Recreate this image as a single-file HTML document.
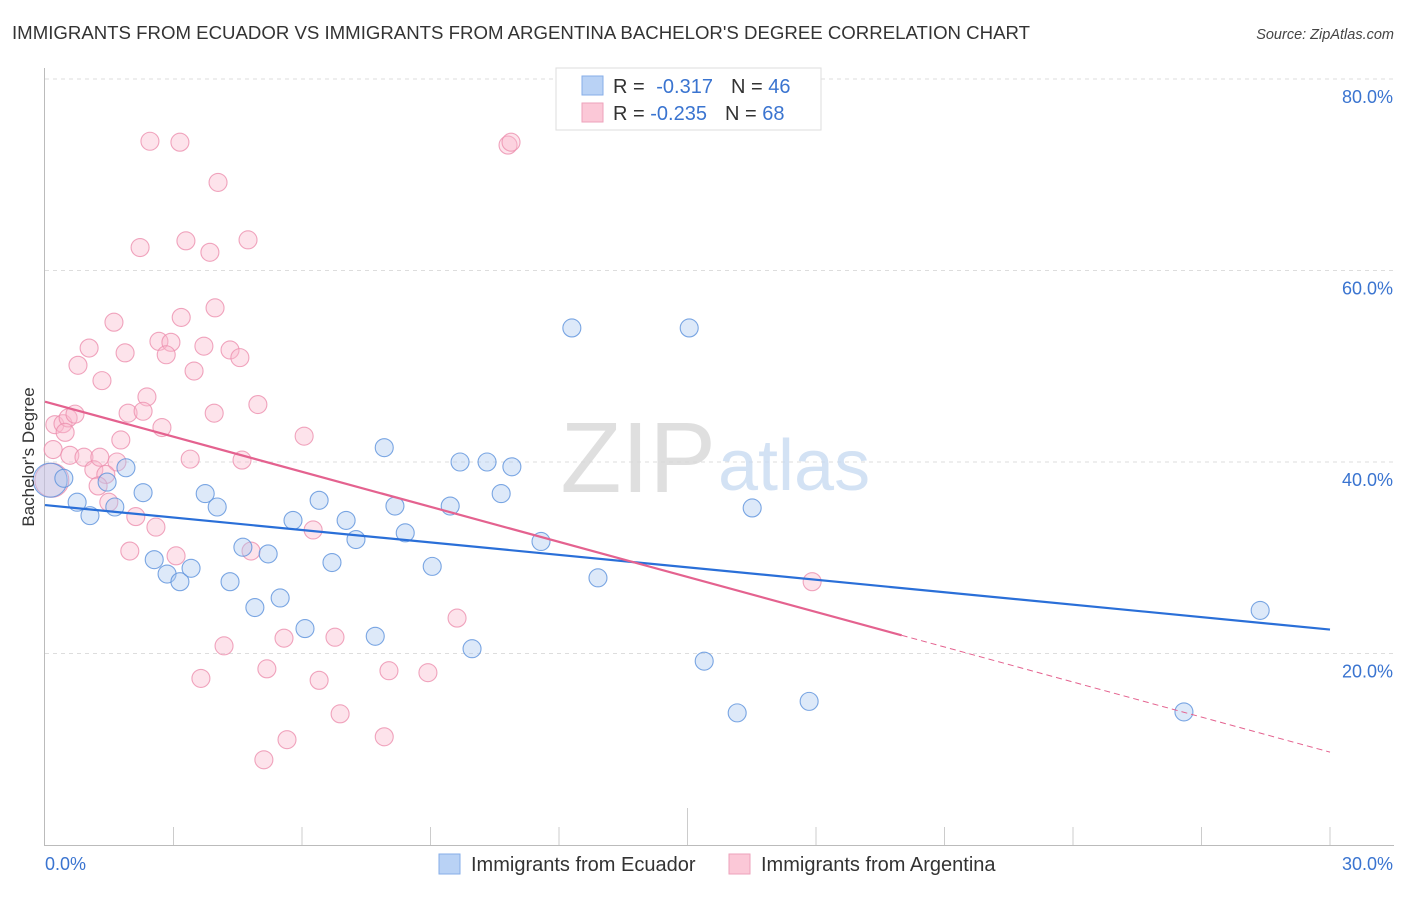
<!DOCTYPE html>
<html><head><meta charset="utf-8"><style>
body{margin:0;background:#fff;font-family:"Liberation Sans",sans-serif;}
svg text{font-family:"Liberation Sans",sans-serif;}
</style></head><body>
<svg id="chart" width="1406" height="892" viewBox="0 0 1406 892" xmlns="http://www.w3.org/2000/svg">
<text x="12" y="39" font-size="18" fill="#333" textLength="1018" lengthAdjust="spacingAndGlyphs">IMMIGRANTS FROM ECUADOR VS IMMIGRANTS FROM ARGENTINA BACHELOR'S DEGREE CORRELATION CHART</text>
<text x="1394" y="39" font-size="14.5" fill="#444" font-style="italic" text-anchor="end">Source: ZipAtlas.com</text>
<g id="grid"></g>
<text x="716" y="492" font-size="100" fill="#d8d8d8" text-anchor="end" font-family="Liberation Serif" opacity="0.8">ZIP</text>
<text x="718" y="490" font-size="72" fill="#c9dbf2" opacity="0.8">atlas</text>
<g id="marks"></g>
<text transform="translate(34,457) rotate(-90)" font-size="17" fill="#333" text-anchor="middle">Bachelor's Degree</text>
<g>
<rect x="556" y="68" width="265" height="62" fill="#fff" stroke="#ddd"/>
<rect x="582" y="76" width="21" height="19" fill="#b9d2f5" stroke="#86aee8"/>
<rect x="582" y="103" width="21" height="19" fill="#fbc8d7" stroke="#eea2bb"/>
<text x="613" y="93" font-size="20" fill="#333">R = <tspan dx="6" fill="#3a74d0">-0.317</tspan><tspan dx="18">N = </tspan><tspan fill="#3a74d0">46</tspan></text>
<text x="613" y="120" font-size="20" fill="#333">R = <tspan fill="#3a74d0">-0.235</tspan><tspan dx="18">N = </tspan><tspan fill="#3a74d0">68</tspan></text>
</g>
<g>
<rect x="439" y="854" width="21" height="20" fill="#b9d2f5" stroke="#86aee8"/>
<text x="471" y="871" font-size="20" fill="#333">Immigrants from Ecuador</text>
<rect x="729" y="854" width="21" height="20" fill="#fbc8d7" stroke="#eea2bb"/>
<text x="761" y="871" font-size="20" fill="#333">Immigrants from Argentina</text>
</g>
</svg>
<script>
const blueX=[0.12,0.44,0.75,1.05,1.45,1.63,1.89,2.29,2.55,2.85,3.15,3.41,3.74,4.02,4.32,4.62,4.90,5.21,5.49,5.79,6.07,6.40,6.70,7.03,7.26,7.71,7.92,8.17,8.41,9.04,9.46,9.69,9.97,10.32,10.65,10.90,11.58,12.30,12.91,15.04,15.39,16.16,16.51,17.84,26.59,28.37];
const blueY=[38.1,38.3,35.8,34.4,37.9,35.3,39.4,36.8,29.8,28.3,27.5,28.9,36.7,35.3,27.5,31.1,24.8,30.4,25.8,33.9,22.6,36.0,29.5,33.9,31.9,21.8,41.5,35.4,32.6,29.1,35.4,40.0,20.5,40.0,36.7,39.5,31.7,54.0,27.9,54.0,19.2,13.8,35.2,15.0,13.9,24.5];
const pinkX=[2.45,3.15,4.04,2.22,3.29,3.85,4.74,3.97,1.61,3.18,1.03,1.87,2.66,2.94,2.83,3.71,4.32,4.55,0.77,3.48,1.33,2.38,1.94,2.29,4.97,3.95,0.23,0.42,0.54,0.70,2.73,1.77,6.05,0.19,0.58,0.91,3.39,4.60,1.68,1.14,1.42,1.24,1.49,2.12,2.59,6.26,1.98,3.06,4.81,4.18,5.58,6.77,9.62,17.91,3.64,5.18,6.40,8.03,8.94,6.89,5.65,7.92,5.11,10.81,10.88,0.16,1.28,0.47];
const pinkY=[73.5,73.4,69.2,62.4,63.1,61.9,63.2,56.1,54.6,55.1,51.9,51.4,52.6,52.5,51.2,52.1,51.7,50.9,50.1,49.5,48.5,46.8,45.1,45.3,46.0,45.1,43.9,44.0,44.6,45.0,43.6,42.3,42.7,41.3,40.7,40.5,40.3,40.2,40.0,39.2,38.7,37.5,35.8,34.3,33.2,32.9,30.7,30.2,30.7,20.8,21.6,21.7,23.7,27.5,17.4,18.4,17.2,18.2,18.0,13.7,11.0,11.3,8.9,73.1,73.4,38.1,40.5,43.1];
const blueTrend=[35.5,22.5];
const pinkTrend=[46.3,9.7];
const pinkSolidEnd=20.0;
const yTicks=[20,40,60,80];
const xTickCount=10;

const NS='http://www.w3.org/2000/svg';
const sx=v=>45+v/30*1285;
const sy=v=>845-v/20*191.5;
function mk(tag,attrs,parent){const e=document.createElementNS(NS,tag);for(const k in attrs)e.setAttribute(k,attrs[k]);parent.appendChild(e);return e;}
const grid=document.getElementById('grid'),marks=document.getElementById('marks');
yTicks.forEach(t=>{
  const l=mk('line',{x1:45,x2:1394,y1:sy(t),y2:sy(t),stroke:'#ddd','stroke-dasharray':'4,4'},grid);
  
  
  const tx=mk('text',{x:1393,y:sy(t)+24,'font-size':18,fill:'#3a74d0','text-anchor':'end'},grid);
  tx.textContent=t.toFixed(1)+'%';
  
  
});
const ax=mk('line',{x1:44.5,x2:44.5,y1:68,y2:845,stroke:'#bbb'},grid);


const bx=mk('line',{x1:44,x2:1394,y1:845.5,y2:845.5,stroke:'#bbb'},grid);


for(let i=1;i<=xTickCount;i++){
  const x=sx(i*3);
  const t=mk('line',{x1:x,x2:x,y1:i===5?808:827,y2:845,stroke:'#ccc'},grid);
  
  
}
const xl0=mk('text',{x:45,y:870,'font-size':18,fill:'#3a74d0'},grid);xl0.textContent='0.0%';


const xl1=mk('text',{x:1393,y:870,'font-size':18,fill:'#3a74d0','text-anchor':'end'},grid);xl1.textContent='30.0%';



function dots(X,Y,fill,stroke,name){
  X.forEach((x,i)=>{
    const big=(i===0&&name==='ecuador')||(name==='argentina'&&i===65);
    const c=mk('circle',{cx:sx(x),cy:sy(Y[i]),r:big?17:9,fill:fill,'fill-opacity':0.4,stroke:stroke,'stroke-opacity':0.8,'stroke-width':1.1},marks);
    
    
  });
}
dots(pinkX,pinkY,'#f9b8cc','#ec8fae','argentina');
dots(blueX,blueY,'#aac8f0','#5b91dc','ecuador');
const bl=mk('line',{x1:sx(0),y1:sy(blueTrend[0]),x2:sx(30),y2:sy(blueTrend[1]),stroke:'#2a6fd8','stroke-width':2.2},marks);


const pAt=x=>pinkTrend[0]+(pinkTrend[1]-pinkTrend[0])*x/30;
const pl=mk('line',{x1:sx(0),y1:sy(pinkTrend[0]),x2:sx(pinkSolidEnd),y2:sy(pAt(pinkSolidEnd)),stroke:'#e4628f','stroke-width':2.2},marks);


const pd=mk('line',{x1:sx(pinkSolidEnd),y1:sy(pAt(pinkSolidEnd)),x2:sx(30),y2:sy(pinkTrend[1]),stroke:'#e4628f','stroke-width':1,'stroke-dasharray':'6,4'},marks);


</script>
</body></html>
